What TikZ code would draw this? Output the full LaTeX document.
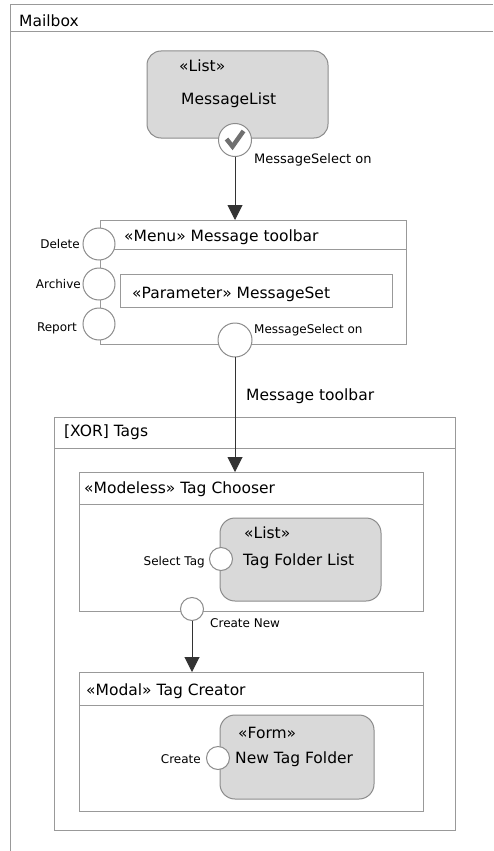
\documentclass[tikz,border=0pt]{standalone}
\usepackage{fontspec}
\setmainfont{DejaVu Sans}
\usetikzlibrary{arrows.meta}
\definecolor{framegray}{HTML}{999999}
\definecolor{boxgray}{HTML}{8C8C8C}
\definecolor{fillgray}{HTML}{D9D9D9}
\definecolor{linegray}{HTML}{333333}
\definecolor{tickgray}{HTML}{707070}
\tikzset{
  frame/.style={draw=framegray, line width=1pt, inner sep=0pt, outer sep=0pt},
  uibox/.style={draw=boxgray, fill=fillgray, line width=1pt, rounded corners=14pt, inner sep=0pt, outer sep=0pt},
  port/.style={circle, draw=boxgray, fill=white, line width=1pt, inner sep=0pt, outer sep=0pt},
  flow/.style={draw=linegray, line width=1pt, -{Triangle[width=15pt,length=15pt]}},
  ttl/.style={font=\fontsize{15.5}{18}\selectfont, inner sep=0pt, anchor=base west},
  lbl/.style={font=\fontsize{12}{14}\selectfont, inner sep=0pt},
}
\begin{document}
\begin{tikzpicture}[x=1pt,y=-1pt]
  \useasboundingbox[fill=white] (0,0) rectangle (493,851);
  % outer mailbox frame (runs off the page)
  \draw[framegray, line width=1pt] (10,851) -- (10,5) -- (493,5);
  \draw[framegray, line width=1pt] (10,32) -- (493,32);
  \node[ttl] (tmail) at (19,26.5) {Mailbox};

  % message list
  \node[uibox, minimum width=181pt, minimum height=87pt] (mlist) at (237.5,94.5) {};
  \node[ttl] (slist) at (179,71.5) {«List»};
  \node[ttl] (tlist) at (181,104) {MessageList};
  \node[port, minimum size=33pt] (chk) at (235,140) {};
  \draw[tickgray, line width=4.5pt] (226.5,139) -- (232.5,146.5) -- (243.5,131);
  \node[lbl, font=\fontsize{13}{15}\selectfont, anchor=base west] (lsel) at (254,163) {MessageSelect on};

  % menu toolbar
  \node[frame, minimum width=306pt, minimum height=124pt] (menu) at (253,282) {};
  \draw[framegray, line width=1pt] (100,249) -- (406,249);
  \node[ttl] (tmenu) at (124,241) {«Menu» Message toolbar};
  \node[frame, minimum width=272pt, minimum height=33pt] (param) at (256,290.5) {};
  \node[ttl] (tparam) at (132,298) {«Parameter» MessageSet};
  \node[port, minimum size=32pt] (pdel) at (99,244) {};
  \node[port, minimum size=32pt] (parch) at (99,284) {};
  \node[port, minimum size=32pt] (prep) at (99,324) {};
  \node[lbl, anchor=base east] (ldel) at (80,248) {Delete};
  \node[lbl, anchor=base east] (larch) at (81,288) {Archive};
  \node[lbl, anchor=base east] (lrep) at (77,331) {Report};
  \node[port, minimum size=34pt] (psel) at (235,340) {};
  \node[lbl, anchor=base west] (lsel2) at (254,333) {MessageSelect on};

  % tags region
  \node[frame, minimum width=401pt, minimum height=413pt] (xor) at (254.5,623.5) {};
  \draw[framegray, line width=1pt] (54,448) -- (455,448);
  \node[ttl] (txor) at (64,436) {[XOR] Tags};

  \node[frame, minimum width=344pt, minimum height=139pt] (chooser) at (251,541.5) {};
  \draw[framegray, line width=1pt] (79,504) -- (423,504);
  \node[ttl] (tchoose) at (84,493) {«Modeless» Tag Chooser};
  \node[uibox, rounded corners=15pt, minimum width=161pt, minimum height=83pt] (flist) at (300.5,559.5) {};
  \node[ttl] (sflist) at (244,538) {«List»};
  \node[ttl] (tflist) at (243,565) {Tag Folder List};
  \node[port, minimum size=23pt] (ptag) at (221,559) {};
  \node[lbl, anchor=base east] (ltag) at (205,565) {Select Tag};
  \node[port, minimum size=23pt] (pnew) at (192,609) {};
  \node[lbl, anchor=base west] (lnew) at (210,627) {Create New};

  \node[frame, minimum width=344pt, minimum height=139pt] (creator) at (251,741.5) {};
  \draw[framegray, line width=1pt] (79,705) -- (423,705);
  \node[ttl] (tcreate) at (86,695) {«Modal» Tag Creator};
  \node[uibox, rounded corners=15pt, minimum width=154pt, minimum height=84pt] (fform) at (297,757) {};
  \node[ttl] (sform) at (238,738) {«Form»};
  \node[ttl] (tform) at (235,763) {New Tag Folder};
  \node[port, minimum size=23pt] (pcre) at (218,758) {};
  \node[lbl, anchor=base east] (lcre) at (201,763) {Create};

  % flows
  \draw[flow] (chk.south) -- (chk.south |- menu.north);
  \draw[flow] (psel.south) -- (psel.south |- chooser.north);
  \node[ttl] (tflow) at (246,400) {Message toolbar};
  \draw[flow] (pnew.south) -- (pnew.south |- creator.north);
\end{tikzpicture}
\end{document}
